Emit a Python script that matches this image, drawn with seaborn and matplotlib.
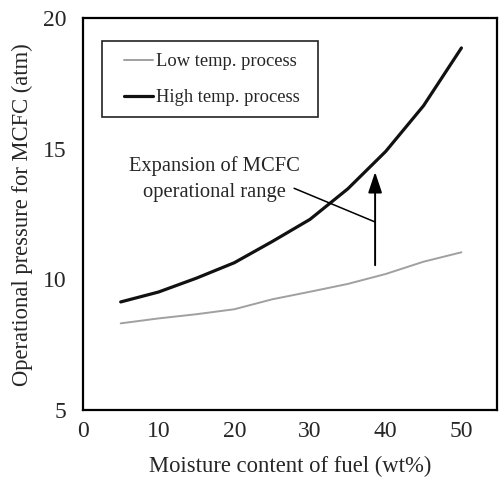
import pandas as pd
import matplotlib
matplotlib.use('Agg')
import matplotlib.pyplot as plt
import seaborn as sns
from matplotlib.patches import Rectangle

# valores
moisture = [5, 10, 15, 20, 25, 30, 35, 40, 45, 50]
low_temp = [8.32, 8.51, 8.67, 8.86, 9.24, 9.53, 9.83, 10.21, 10.68, 11.04]
high_temp = [9.14, 9.52, 10.05, 10.64, 11.45, 12.3, 13.47, 14.9, 16.65, 18.86]
series = ['Low temp. process', 'High temp. process']

df = pd.DataFrame({
    'moisture': moisture * 2,
    'pressure': low_temp + high_temp,
    'process': [series[0]] * len(moisture) + [series[1]] * len(moisture),
})

sns.set_style('white')
plt.rcParams['font.family'] = ['Liberation Serif', 'DejaVu Serif']

fig, ax = plt.subplots(figsize=(4.99, 4.78), dpi=100)
fig.subplots_adjust(left=0.166, right=0.996, top=0.962, bottom=0.142)

sns.lineplot(data=df, x='moisture', y='pressure', hue='process',
             palette={series[0]: '#a0a0a0', series[1]: '#111111'},
             ax=ax, legend=False)
lines = ax.get_lines()
lines[0].set_linewidth(1.4)
lines[1].set_linewidth(2.3)

# legenda com caixa desenhada à parte
ax.add_patch(Rectangle((0.046, 0.747), 0.522, 0.194, transform=ax.transAxes,
                       fill=False, edgecolor='#222222', lw=1.2, zorder=5))
ax.legend(lines[:2], series, loc='center left', bbox_to_anchor=(0.099, 0.843),
          frameon=False, fontsize=13.3, handlelength=1.6, handletextpad=0.15,
          borderpad=0, borderaxespad=0, labelspacing=1.05)

# seta e anotação
ax.annotate('', xy=(38.6, 14.22), xytext=(38.6, 10.44),
            arrowprops=dict(arrowstyle='-|>,head_length=0.9,head_width=0.3',
                            color='black', lw=1.4, mutation_scale=14))
ax.plot([27.9, 38.6], [13.49, 12.2], color='black', lw=1.1)
ax.text(17.4, 13.84, 'Expansion of MCFC\noperational range', ha='center', va='center',
        fontsize=14.8, linespacing=1.45)

ax.set_xlim(0, 54.7)
ax.set_ylim(5, 20)
ax.set_xticks([0, 10, 20, 30, 40, 50])
ax.set_yticks([5, 10, 15, 20])
ax.tick_params(direction='in', length=6, width=1, labelsize=17)
ax.tick_params(axis='x', pad=8)
ax.tick_params(axis='y', pad=12)
ax.set_xlabel('Moisture content of fuel (wt%)', fontsize=16.3, labelpad=10)
ax.set_ylabel('Operational pressure for MCFC (atm)', fontsize=16.3, labelpad=7)
for s in ax.spines.values():
    s.set_linewidth(1.6)
    s.set_color('black')

fig.savefig('out.png', dpi=100)
